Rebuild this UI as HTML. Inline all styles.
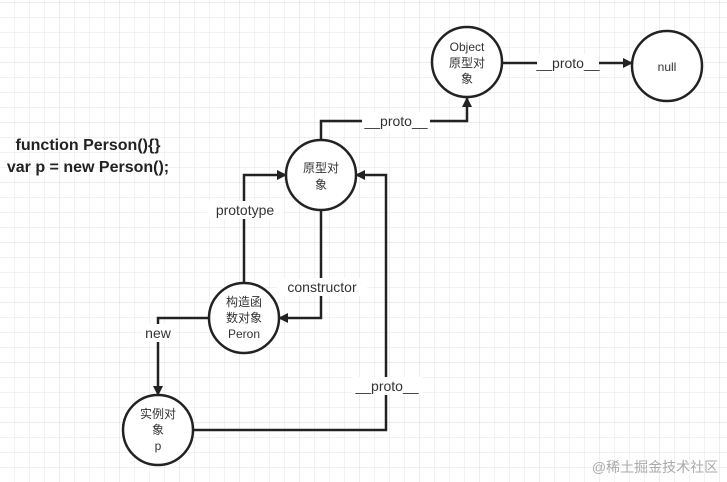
<!DOCTYPE html>
<html><head><meta charset="utf-8"><style>
html,body{margin:0;padding:0;width:727px;height:482px;overflow:hidden;background:#fff}
</style></head><body>
<svg width="727" height="482" xmlns="http://www.w3.org/2000/svg" font-family="Liberation Sans, Noto Sans CJK SC, sans-serif">
<defs>
<pattern id="g" x="0" y="3" width="15" height="15" patternUnits="userSpaceOnUse">
<path d="M15 0V15M0 15H15" stroke="#e6e6e6" stroke-width="1" fill="none"/>
</pattern>
<pattern id="g2" x="0" y="3" width="60" height="60" patternUnits="userSpaceOnUse">
<path d="M60 0V60M0 60H60" stroke="#dadada" stroke-width="1" fill="none"/>
</pattern>
<marker id="a" markerWidth="10" markerHeight="10" refX="9" refY="5" orient="auto" markerUnits="userSpaceOnUse">
<path d="M0 0L10 5L0 10z" fill="#222"/>
</marker>
</defs>
<rect width="727" height="482" fill="url(#g)"/>
<rect width="727" height="482" fill="url(#g2)"/>
<g stroke="#222" stroke-width="2.5" fill="none">
<path d="M321 140V121H467V98" marker-end="url(#a)"/>
<path d="M502 63H632" marker-end="url(#a)"/>
<path d="M244 283V175H286" marker-end="url(#a)"/>
<path d="M321 210V318H279" marker-end="url(#a)"/>
<path d="M209 318H158V395" marker-end="url(#a)"/>
<path d="M193 430H386V175H356" marker-end="url(#a)"/>
<circle cx="321" cy="175" r="35" fill="#fff"/>
<circle cx="467" cy="62" r="35" fill="#fff"/>
<circle cx="667" cy="66" r="35" fill="#fff"/>
<circle cx="244" cy="318" r="35" fill="#fff"/>
<circle cx="158" cy="430" r="35" fill="#fff"/>
</g>
<g font-size="14" fill="#333" text-anchor="middle">
<rect x="362" y="112" width="68" height="18" fill="#fff"/>
<text x="396" y="126">__proto__</text>
<rect x="537" y="54" width="62" height="18" fill="#fff"/>
<text x="568" y="68">__proto__</text>
<rect x="207" y="201" width="76" height="18" fill="#fff"/>
<text x="245" y="215">prototype</text>
<rect x="277" y="278" width="90" height="18" fill="#fff"/>
<text x="322" y="292">constructor</text>
<rect x="142" y="324" width="32" height="18" fill="#fff"/>
<text x="158" y="338">new</text>
<rect x="352" y="377" width="70" height="18" fill="#fff"/>
<text x="387" y="391">__proto__</text>
</g>
<g font-size="12" fill="#333" text-anchor="middle">
<text x="321" y="172">原型对</text><text x="321" y="189">象</text>
<text x="467" y="51">Object</text><text x="467" y="67">原型对</text><text x="467" y="83">象</text>
<text x="667" y="71">null</text>
<text x="244" y="306">构造函</text><text x="244" y="322">数对象</text><text x="244" y="338">Peron</text>
<text x="158" y="418">实例对</text><text x="158" y="434">象</text><text x="158" y="450">p</text>
</g>
<g font-size="16" font-weight="bold" fill="#222" text-anchor="middle">
<text x="88" y="150">function Person(){}</text>
<text x="88" y="172">var p = new Person();</text>
</g>
<text x="655" y="472" font-size="14" fill="#aaa" text-anchor="middle">@稀土掘金技术社区</text>
</svg>
</body></html>
